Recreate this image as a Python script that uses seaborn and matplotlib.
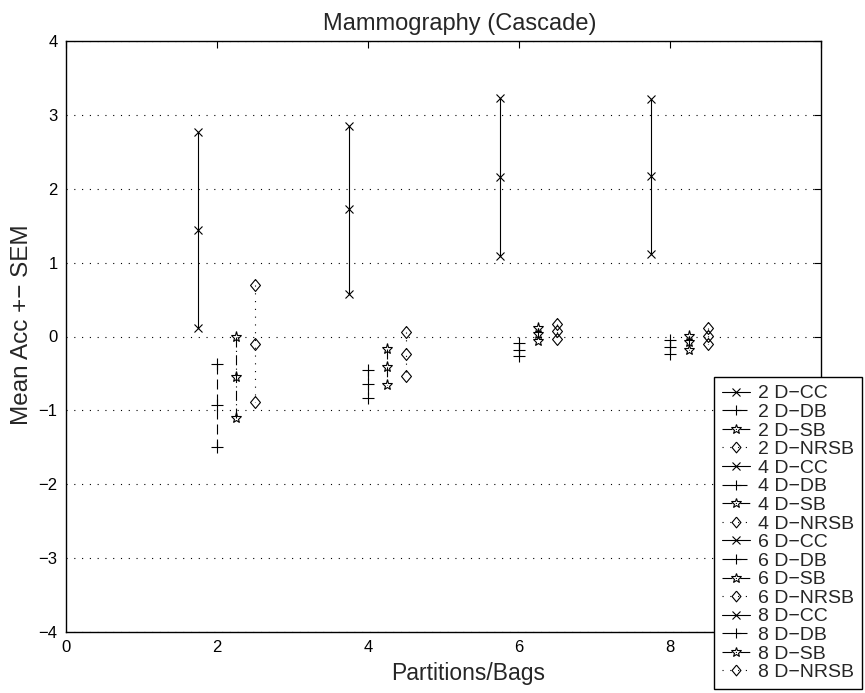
import matplotlib
matplotlib.use("Agg")
import matplotlib.pyplot as plt
import seaborn as sns
import pandas as pd

# ---- data ----
partitions = [2, 4, 6, 8]
methods = ["CC", "DB", "SB", "NRSB"]
offsets = [-0.25, 0.0, 0.25, 0.5]

# (upper, mean, lower) for each method per partition count
cc_vals = {2: (2.77, 1.44, 0.11), 4: (2.85, 1.72, 0.58), 6: (3.23, 2.16, 1.09), 8: (3.22, 2.17, 1.11)}
db_vals = {2: (-0.37, -0.93, -1.50), 4: (-0.45, -0.64, -0.83), 6: (-0.09, -0.18, -0.27), 8: (-0.05, -0.14, -0.24)}
sb_vals = {2: (0.00, -0.55, -1.10), 4: (-0.17, -0.41, -0.65), 6: (0.12, 0.03, -0.06), 8: (0.01, -0.08, -0.18)}
nrsb_vals = {2: (0.70, -0.10, -0.89), 4: (0.06, -0.24, -0.53), 6: (0.17, 0.07, -0.03), 8: (0.12, 0.01, -0.10)}
method_vals = {"CC": cc_vals, "DB": db_vals, "SB": sb_vals, "NRSB": nrsb_vals}

xticks = [0, 2, 4, 6, 8, 10]
xticklabels = ["0", "2", "4", "6", "8", ""]   # "10" is hidden under the legend
yticks = [-4, -3, -2, -1, 0, 1, 2, 3, 4]
yticklabels = ["−4", "−3", "−2", "−1", "0", "1", "2", "3", "4"]

rows = []
for p in partitions:
    for m, off in zip(methods, offsets):
        for k, v in enumerate(method_vals[m][p]):
            rows.append({"x": p + off, "y": v, "series": f"{p} D−{m}", "method": m, "order": k})
df = pd.DataFrame(rows)

diamond = [(0, 1), (0.83, 0), (0, -1), (-0.83, 0), (0, 1)]
styles = {
    "CC": dict(marker="x", linestyle="-", markersize=6, mfc="black"),
    "DB": dict(marker="+", linestyle=(0, (9, 4.5)), markersize=8, mfc="black"),
    "SB": dict(marker="*", linestyle=(0, (9, 3, 1, 3)), markersize=8, mfc="none"),
    "NRSB": dict(marker=diamond, linestyle=(0, (1, 6)), markersize=8.6, mfc="none"),
}

sns.set_style("white")
plt.rcParams["font.family"] = ["Liberation Sans", "DejaVu Sans"]

fig = plt.figure(figsize=(8.65, 6.93), dpi=100)
ax = fig.add_axes([66 / 865, 1 - 632 / 693, (821 - 66) / 865, (632 - 41) / 693])

for p in partitions:
    for m in methods:
        sub = df[(df["series"] == f"{p} D−{m}")]
        st = styles[m]
        sns.lineplot(data=sub, x="x", y="y", estimator=None, sort=False, ax=ax,
                     color="black", linewidth=0.8, linestyle=st["linestyle"],
                     marker=st["marker"], markersize=st["markersize"],
                     markerfacecolor=st["mfc"], markeredgecolor="black", markeredgewidth=0.8,
                     label=f"{p} D−{m}")

if ax.get_legend() is not None:
    ax.get_legend().remove()

ax.set_xlim(0, 10)
ax.set_ylim(-4, 4)
ax.set_xticks(xticks)
ax.set_yticks(yticks)
ax.set_xticklabels(xticklabels, fontsize=12)
ax.set_yticklabels(yticklabels, fontsize=12)
ax.yaxis.grid(True, linestyle=(0, (1, 6)), color="black", linewidth=0.8)
ax.xaxis.grid(False)
ax.tick_params(direction="in", top=True, right=True, length=5, width=0.8, colors="black", pad=6)
for s in ax.spines.values():
    s.set_visible(True)
    s.set_color("black")
    s.set_linewidth(1.0)

fig.text(460 / 865, 1 - 30 / 693, "Mammography (Cascade)", fontsize=17, ha="center", va="baseline")
ax.set_xlabel("Partitions/Bags", fontsize=16.5)
ax.xaxis.set_label_coords((468 - 66) / 755, -(662 - 632) / 591)
ax.set_ylabel("Mean Acc +− SEM", fontsize=17.5)
ax.yaxis.set_label_coords((33 - 66) / 755, (632 - 325) / 591)

handles, labels = ax.get_legend_handles_labels()
leg = fig.legend(handles, labels, loc="lower right", bbox_to_anchor=(862 / 865, 1 - 689 / 693),
                 fontsize=14, frameon=True, fancybox=False, framealpha=1, edgecolor="black",
                 handlelength=1.45, handletextpad=0.4, labelspacing=0.05, borderpad=0.4,
                 borderaxespad=0, markerscale=0.9)
leg.get_frame().set_linewidth(1.0)

fig.savefig("out.png", dpi=100)
